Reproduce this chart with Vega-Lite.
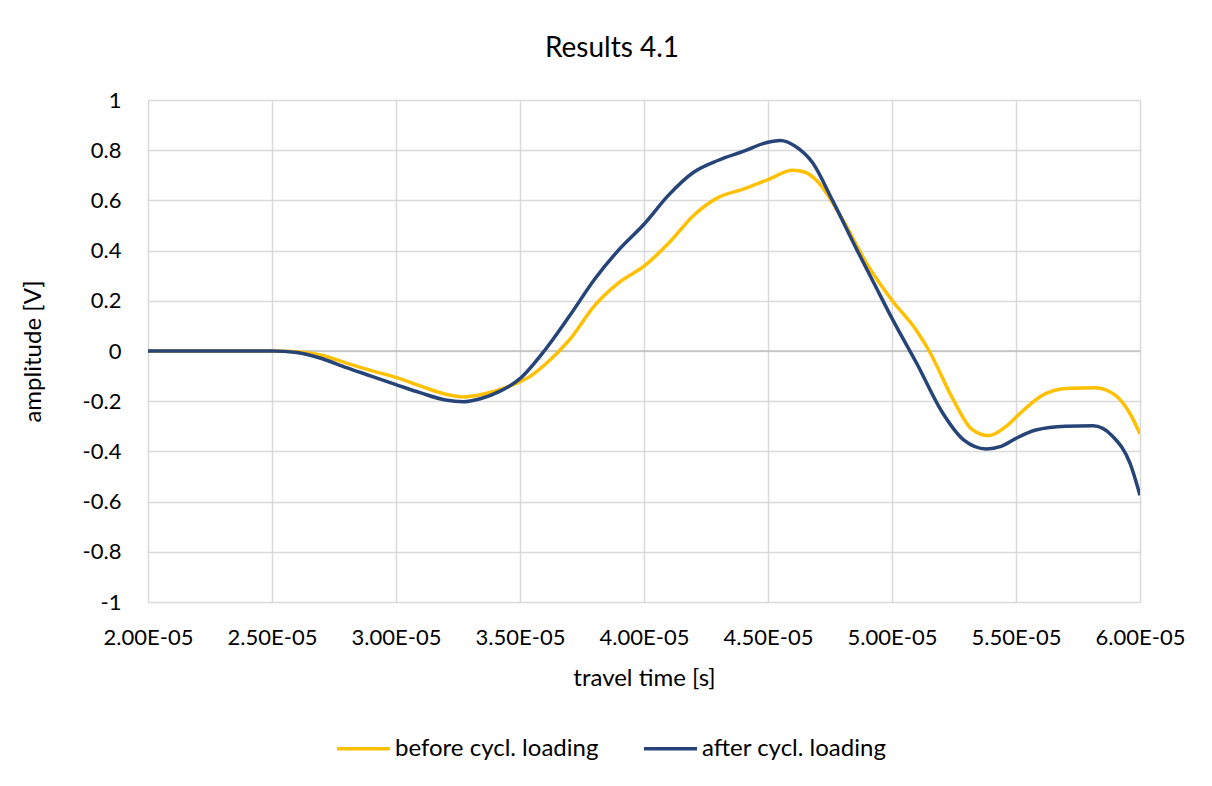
{
  "$schema": "https://vega.github.io/schema/vega-lite/v6.json",
  "width": 992,
  "height": 502,
  "autosize": {"type": "none"},
  "padding": {"left": 148, "top": 100, "right": 72, "bottom": 184},
  "background": "white",
  "config": {
    "font": "Lato",
    "view": {"stroke": null},
    "axis": {"labelFont": "Lato", "titleFont": "Lato", "labelColor": "#000000", "titleColor": "#000000", "labelFontWeight": "normal", "titleFontWeight": "normal"}
  },
  "title": {"text": "Results 4.1", "fontSize": 28, "font": "Lato", "fontWeight": "normal", "color": "#000000", "anchor": "middle", "dx": -32, "offset": 26},
  "datasets": {
    "series": [
      {"t": 2.0e-5, "v": 0, "s": "before cycl. loading"},
      {"t": 2.1e-5, "v": 0, "s": "before cycl. loading"},
      {"t": 2.2e-5, "v": 0, "s": "before cycl. loading"},
      {"t": 2.3e-5, "v": 0, "s": "before cycl. loading"},
      {"t": 2.4e-5, "v": 0, "s": "before cycl. loading"},
      {"t": 2.5e-5, "v": 0, "s": "before cycl. loading"},
      {"t": 2.6e-5, "v": -0.003, "s": "before cycl. loading"},
      {"t": 2.7e-5, "v": -0.017, "s": "before cycl. loading"},
      {"t": 2.8e-5, "v": -0.048, "s": "before cycl. loading"},
      {"t": 2.9e-5, "v": -0.078, "s": "before cycl. loading"},
      {"t": 3.0e-5, "v": -0.105, "s": "before cycl. loading"},
      {"t": 3.1e-5, "v": -0.14, "s": "before cycl. loading"},
      {"t": 3.2e-5, "v": -0.172, "s": "before cycl. loading"},
      {"t": 3.27e-5, "v": -0.183, "s": "before cycl. loading"},
      {"t": 3.35e-5, "v": -0.172, "s": "before cycl. loading"},
      {"t": 3.45e-5, "v": -0.143, "s": "before cycl. loading"},
      {"t": 3.55e-5, "v": -0.095, "s": "before cycl. loading"},
      {"t": 3.6e-5, "v": -0.055, "s": "before cycl. loading"},
      {"t": 3.7e-5, "v": 0.045, "s": "before cycl. loading"},
      {"t": 3.8e-5, "v": 0.18, "s": "before cycl. loading"},
      {"t": 3.9e-5, "v": 0.273, "s": "before cycl. loading"},
      {"t": 4.0e-5, "v": 0.338, "s": "before cycl. loading"},
      {"t": 4.1e-5, "v": 0.43, "s": "before cycl. loading"},
      {"t": 4.2e-5, "v": 0.54, "s": "before cycl. loading"},
      {"t": 4.3e-5, "v": 0.612, "s": "before cycl. loading"},
      {"t": 4.4e-5, "v": 0.645, "s": "before cycl. loading"},
      {"t": 4.5e-5, "v": 0.683, "s": "before cycl. loading"},
      {"t": 4.6e-5, "v": 0.72, "s": "before cycl. loading"},
      {"t": 4.65e-5, "v": 0.712, "s": "before cycl. loading"},
      {"t": 4.7e-5, "v": 0.675, "s": "before cycl. loading"},
      {"t": 4.8e-5, "v": 0.525, "s": "before cycl. loading"},
      {"t": 4.9e-5, "v": 0.345, "s": "before cycl. loading"},
      {"t": 5.0e-5, "v": 0.202, "s": "before cycl. loading"},
      {"t": 5.1e-5, "v": 0.08, "s": "before cycl. loading"},
      {"t": 5.15e-5, "v": 0.0, "s": "before cycl. loading"},
      {"t": 5.25e-5, "v": -0.2, "s": "before cycl. loading"},
      {"t": 5.32e-5, "v": -0.31, "s": "before cycl. loading"},
      {"t": 5.39e-5, "v": -0.337, "s": "before cycl. loading"},
      {"t": 5.46e-5, "v": -0.3, "s": "before cycl. loading"},
      {"t": 5.52e-5, "v": -0.245, "s": "before cycl. loading"},
      {"t": 5.6e-5, "v": -0.18, "s": "before cycl. loading"},
      {"t": 5.7e-5, "v": -0.149, "s": "before cycl. loading"},
      {"t": 5.82e-5, "v": -0.146, "s": "before cycl. loading"},
      {"t": 5.9e-5, "v": -0.176, "s": "before cycl. loading"},
      {"t": 5.96e-5, "v": -0.25, "s": "before cycl. loading"},
      {"t": 6.0e-5, "v": -0.33, "s": "before cycl. loading"},
      {"t": 2.0e-5, "v": 0, "s": "after cycl. loading"},
      {"t": 2.1e-5, "v": 0, "s": "after cycl. loading"},
      {"t": 2.2e-5, "v": 0, "s": "after cycl. loading"},
      {"t": 2.3e-5, "v": 0, "s": "after cycl. loading"},
      {"t": 2.4e-5, "v": 0, "s": "after cycl. loading"},
      {"t": 2.5e-5, "v": 0, "s": "after cycl. loading"},
      {"t": 2.6e-5, "v": -0.006, "s": "after cycl. loading"},
      {"t": 2.7e-5, "v": -0.03, "s": "after cycl. loading"},
      {"t": 2.8e-5, "v": -0.066, "s": "after cycl. loading"},
      {"t": 2.9e-5, "v": -0.1, "s": "after cycl. loading"},
      {"t": 3.0e-5, "v": -0.134, "s": "after cycl. loading"},
      {"t": 3.1e-5, "v": -0.167, "s": "after cycl. loading"},
      {"t": 3.2e-5, "v": -0.195, "s": "after cycl. loading"},
      {"t": 3.27e-5, "v": -0.202, "s": "after cycl. loading"},
      {"t": 3.34e-5, "v": -0.19, "s": "after cycl. loading"},
      {"t": 3.42e-5, "v": -0.16, "s": "after cycl. loading"},
      {"t": 3.5e-5, "v": -0.11, "s": "after cycl. loading"},
      {"t": 3.6e-5, "v": 0.003, "s": "after cycl. loading"},
      {"t": 3.7e-5, "v": 0.14, "s": "after cycl. loading"},
      {"t": 3.8e-5, "v": 0.285, "s": "after cycl. loading"},
      {"t": 3.9e-5, "v": 0.405, "s": "after cycl. loading"},
      {"t": 4.0e-5, "v": 0.505, "s": "after cycl. loading"},
      {"t": 4.1e-5, "v": 0.622, "s": "after cycl. loading"},
      {"t": 4.2e-5, "v": 0.712, "s": "after cycl. loading"},
      {"t": 4.3e-5, "v": 0.76, "s": "after cycl. loading"},
      {"t": 4.4e-5, "v": 0.795, "s": "after cycl. loading"},
      {"t": 4.5e-5, "v": 0.832, "s": "after cycl. loading"},
      {"t": 4.55e-5, "v": 0.839, "s": "after cycl. loading"},
      {"t": 4.61e-5, "v": 0.816, "s": "after cycl. loading"},
      {"t": 4.68e-5, "v": 0.75, "s": "after cycl. loading"},
      {"t": 4.76e-5, "v": 0.6, "s": "after cycl. loading"},
      {"t": 4.86e-5, "v": 0.4, "s": "after cycl. loading"},
      {"t": 4.93e-5, "v": 0.265, "s": "after cycl. loading"},
      {"t": 5.0e-5, "v": 0.13, "s": "after cycl. loading"},
      {"t": 5.1e-5, "v": -0.05, "s": "after cycl. loading"},
      {"t": 5.2e-5, "v": -0.24, "s": "after cycl. loading"},
      {"t": 5.29e-5, "v": -0.355, "s": "after cycl. loading"},
      {"t": 5.38e-5, "v": -0.39, "s": "after cycl. loading"},
      {"t": 5.44e-5, "v": -0.38, "s": "after cycl. loading"},
      {"t": 5.5e-5, "v": -0.348, "s": "after cycl. loading"},
      {"t": 5.58e-5, "v": -0.315, "s": "after cycl. loading"},
      {"t": 5.7e-5, "v": -0.3, "s": "after cycl. loading"},
      {"t": 5.81e-5, "v": -0.298, "s": "after cycl. loading"},
      {"t": 5.89e-5, "v": -0.34, "s": "after cycl. loading"},
      {"t": 5.96e-5, "v": -0.448, "s": "after cycl. loading"},
      {"t": 6.0e-5, "v": -0.575, "s": "after cycl. loading"}
    ],
    "zero": [{"v": 0}]
  },
  "layer": [
    {
      "data": {"name": "zero"},
      "mark": {"type": "rule", "color": "#bfbfbf", "strokeWidth": 1.5},
      "encoding": {"y": {"field": "v", "type": "quantitative", "scale": {"domain": [-1, 1]}}}
    },
    {
      "data": {"name": "series"},
      "mark": {"type": "line", "interpolate": "monotone", "strokeWidth": 3.5, "clip": true},
      "encoding": {
        "x": {
          "field": "t", "type": "quantitative",
          "scale": {"domain": [2.0e-5, 6.0e-5], "nice": false, "zero": false},
          "axis": {
            "title": "travel time [s]", "titleFontSize": 24, "titlePadding": 18,
            "values": [2.0e-5, 2.5e-5, 3.0e-5, 3.5e-5, 4.0e-5, 4.5e-5, 5.0e-5, 5.5e-5, 6.0e-5],
            "labelExpr": "format(datum.value*100000, '.2f') + 'E-05'",
            "labelFontSize": 22, "labelPadding": 25, "ticks": false, "domain": false,
            "grid": true, "gridColor": "#d9d9d9", "gridWidth": 1.5, "labelFlush": false
          }
        },
        "y": {
          "field": "v", "type": "quantitative",
          "scale": {"domain": [-1, 1], "nice": false},
          "axis": {
            "title": "amplitude [V]", "titleFontSize": 24, "titlePadding": 37,
            "values": [-1, -0.8, -0.6, -0.4, -0.2, 0, 0.2, 0.4, 0.6, 0.8, 1],
            "labelExpr": "datum.value < 0 ? '-' + format(-datum.value, '~g') : format(datum.value, '~g')",
            "labelFontSize": 22, "labelPadding": 27, "ticks": false, "domain": false,
            "grid": true, "gridColor": "#d9d9d9", "gridWidth": 1.5
          }
        },
        "color": {
          "field": "s", "type": "nominal",
          "scale": {"domain": ["before cycl. loading", "after cycl. loading"], "range": ["#FFC000", "#264478"]},
          "legend": {
            "title": null, "orient": "none", "direction": "horizontal",
            "legendX": 187, "legendY": 620,
            "symbolType": "stroke", "symbolStrokeWidth": 3.5, "symbolSize": 2809,
            "labelFontSize": 24, "labelFont": "Lato", "labelColor": "#000000", "labelLimit": 500,
            "columnPadding": 38, "labelOffset": 3
          }
        }
      }
    }
  ]
}
